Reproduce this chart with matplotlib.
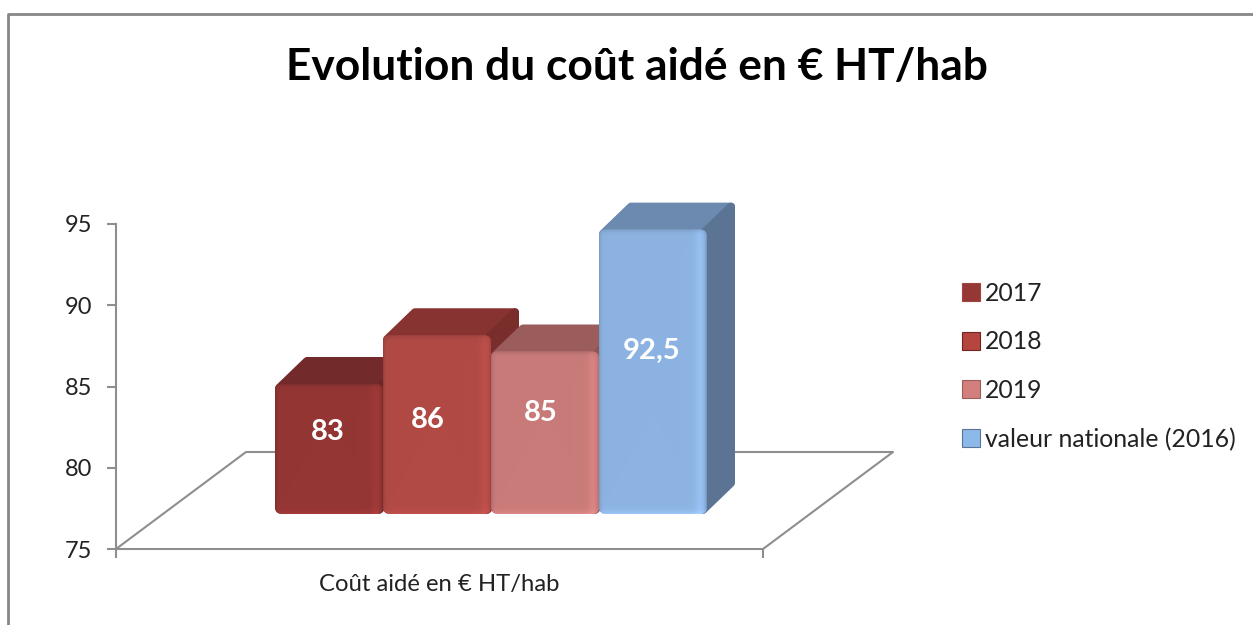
import numpy as np
import matplotlib
matplotlib.use("Agg")
import matplotlib.pyplot as plt
from matplotlib.colors import to_rgb
from matplotlib.lines import Line2D
from matplotlib.patches import FancyBboxPatch, Patch, Polygon
from matplotlib.transforms import Affine2D

plt.rcParams['font.family'] = ['Lato', 'DejaVu Sans']

title = "Evolution du coût aidé en € HT/hab"
x_label = "Coût aidé en € HT/hab"
series = ["2017", "2018", "2019", "valeur nationale (2016)"]
values = [83, 86, 85, 92.5]
value_labels = ["83", "86", "85", "92,5"]
y_ticks = [75, 80, 85, 90, 95]

front_colors = ["#943634", "#B14A45", "#C97B79", "#8DB3E2"]
top_colors = ["#722B2A", "#873331", "#9A5D5B", "#6C8AAF"]
side_colors = ["#6A2726", "#7A2E2C", "#8C5452", "#5B7494"]
legend_colors = ["#953735", "#B5453F", "#D27F7D", "#8DB8EA"]
legend_edges = ["#A04543", "#6E2523", "#9A5D5B", "#5B7494"]
label_shift_px = [17, 5, 20, 21]
label_nudge_px = [-1, -9, -4, -1]

W, H = 1253, 625
GRAY = "#8E8E8E"
BAR_W_PX = 108
PX_PER_UNIT = 16.25
LIFT_PX = 35          # front plane sits above the axis plane
DEPTH_X, DEPTH_Y = 28, 27
ROUND_PX = 4


def face_image(color, w, h):
    """ shaded front of a bar, with the bevel along the edges """
    u = np.arange(w) + 0.5
    v = np.arange(h) + 0.5
    shade_x = 1 + 0.07 * np.exp(-((w - u - 7) / 5) ** 2) - 0.22 * np.exp(-(w - u) / 1.6) - 0.18 * np.exp(-u / 1.6)
    shade_y = 1 + 0.12 * np.exp(-v / 3.0) - 0.18 * np.exp(-(h - v) / 2.0)
    shade = np.outer(shade_y, shade_x)[..., None]
    return np.clip(shade * np.array(to_rgb(color)), 0, 1)


fig = plt.figure(figsize=(W / 100, H / 100), dpi=100)
ax = fig.add_axes([116 / W, 1 - 549 / H, (763 - 116) / W, (549 - 224) / H])

bar_trans = ax.transData + Affine2D().translate(0, LIFT_PX)
x = np.arange(len(values))
bars = ax.bar(x, np.array(values) - y_ticks[0], bottom=y_ticks[0], width=1, transform=bar_trans, alpha=0)

dx = DEPTH_X / BAR_W_PX
dy = DEPTH_Y / PX_PER_UNIT
rx = ROUND_PX / BAR_W_PX
ry = ROUND_PX / PX_PER_UNIT
edge_lw = 2 * ROUND_PX * 0.72

for i, rect in enumerate(bars):
    x0, y0 = rect.get_x(), rect.get_y()
    x1, y1 = x0 + rect.get_width(), y0 + rect.get_height()
    z = 3 + i
    # thick round-joined edges give the soft corners of the 3D box
    ax.add_patch(Polygon([(x0 + rx, y1 - ry), (x0 + dx + rx, y1 + dy - ry), (x1 + dx - rx, y1 + dy - ry), (x1, y1 - ry)],
                         facecolor=top_colors[i], edgecolor=top_colors[i], lw=edge_lw, joinstyle="round",
                         transform=bar_trans, zorder=z, clip_on=False))
    ax.add_patch(Polygon([(x1 - rx, y1 - ry), (x1 + dx - rx, y1 + dy - ry), (x1 + dx - rx, y0 + dy + ry), (x1 - rx, y0 + ry)],
                         facecolor=side_colors[i], edgecolor=side_colors[i], lw=edge_lw, joinstyle="round",
                         transform=bar_trans, zorder=z, clip_on=False))
    face = FancyBboxPatch((x0, y0), x1 - x0, y1 - y0, boxstyle="round,pad=0,rounding_size=0.065",
                          mutation_aspect=BAR_W_PX / PX_PER_UNIT, facecolor=front_colors[i],
                          edgecolor="none", transform=bar_trans, zorder=z + 0.1, clip_on=False)
    ax.add_patch(face)
    img = face_image(front_colors[i], BAR_W_PX, int(round((y1 - y0) * PX_PER_UNIT)))
    im = ax.imshow(img, extent=(x0, x1, y1, y0), aspect="auto", origin="upper", zorder=z + 0.2)
    im.set_transform(bar_trans)
    im.set_clip_path(face)
    ax.text(x[i] + label_nudge_px[i] / BAR_W_PX, (y0 + y1) / 2 + label_shift_px[i] / PX_PER_UNIT,
            value_labels[i], color="white", fontsize=21, fontweight="bold", ha="center", va="center",
            transform=bar_trans, zorder=20)

x_min, x_max = (116 - 329) / BAR_W_PX, (763 - 329) / BAR_W_PX
ax.set_xlim(x_min, x_max)
ax.set_ylim(y_ticks[0], y_ticks[-1])

# floor of the 3D box
floor_dx = 130 / BAR_W_PX
floor_y = y_ticks[0] + 97 / PX_PER_UNIT
ax.plot([x_min, x_min + floor_dx, x_max + floor_dx, x_max],
        [y_ticks[0], floor_y, floor_y, y_ticks[0]],
        color=GRAY, lw=1.5, clip_on=False, zorder=1)

for side in ["top", "right"]:
    ax.spines[side].set_visible(False)
for side in ["left", "bottom"]:
    ax.spines[side].set_color(GRAY)
    ax.spines[side].set_linewidth(1.5)
ax.set_yticks(y_ticks)
ax.set_xticks([x_min, x_max])
ax.set_xticklabels([])
ax.tick_params(axis="both", color=GRAY, width=1.5, length=6.5)
ax.tick_params(axis="y", labelsize=17, labelcolor="#222222", pad=10.5)
ax.set_xlabel(x_label, fontsize=17.2, color="#222222")
ax.xaxis.set_label_coords((439 - 116) / (763 - 116), -36 / 325, transform=ax.transAxes)
ax.xaxis.label.set_va("center")

handles = [Patch(facecolor=c, edgecolor=e, lw=0.8) for c, e in zip(legend_colors, legend_edges)]
fig.legend(handles, series, loc="upper left", bbox_to_anchor=(952.5 / W, 1 - 272 / H), frameon=False,
           fontsize=17.85, labelcolor="#222222", handlelength=0.72, handleheight=0.72, handletextpad=0.2,
           labelspacing=1.03, borderpad=0.4, borderaxespad=0)

fig.text(636.5 / W, 1 - 67 / H, title, fontsize=31.9, fontweight="bold", color="black", ha="center", va="center")

# outer chart border, cut off at the bottom and on the right
border_x = [8 / W, 8 / W, 1]
border_y = [0, 1 - 13.5 / H, 1 - 13.5 / H]
fig.add_artist(Line2D(border_x, border_y, color="#868686", lw=2))

fig.savefig("out.png", dpi=100)
plt.close('all')
